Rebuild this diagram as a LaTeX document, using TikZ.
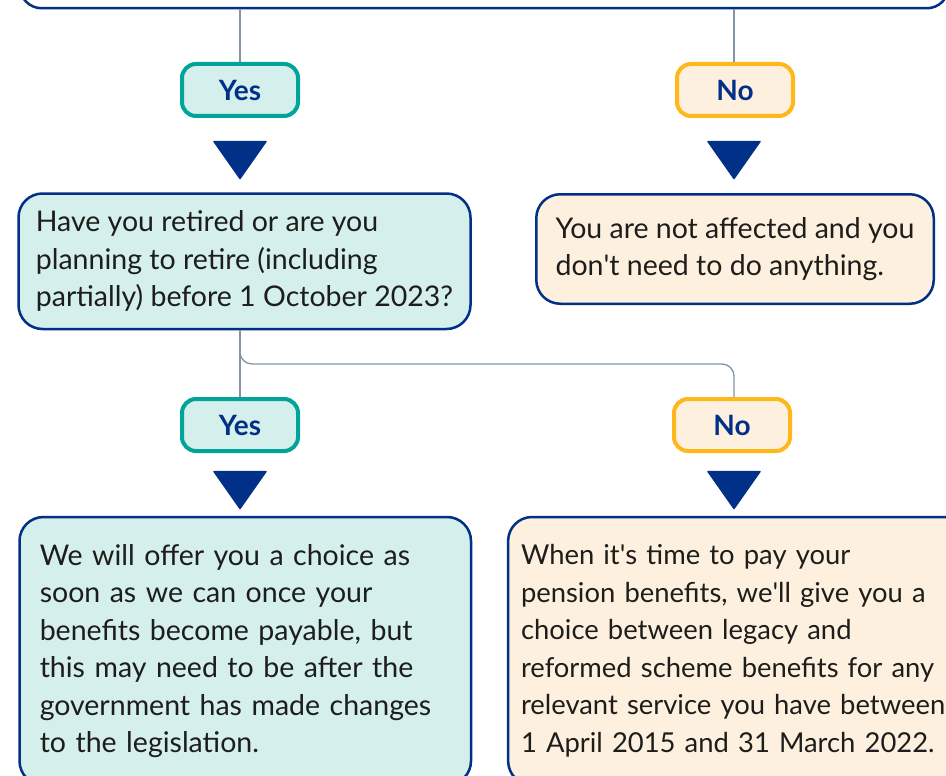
\documentclass[tikz,border=0pt]{standalone}
\usepackage{fontspec}
\setmainfont{Lato}
\definecolor{navy}{HTML}{003087}
\definecolor{tealc}{HTML}{00A499}
\definecolor{tealfill}{HTML}{D5EFEC}
\definecolor{orgc}{HTML}{FFB81C}
\definecolor{orgfill}{HTML}{FEF0DF}
\definecolor{conngray}{HTML}{8495A8}
\definecolor{txt}{HTML}{1D1D1B}
\tikzset{
  box/.style={draw=navy, line width=2.5pt, rounded corners=24pt, align=left, inner sep=0pt,
    font=\fontsize{28.5}{37.5}\selectfont, text=txt},
  tealbox/.style={box, fill=tealfill},
  orgbox/.style={box, fill=orgfill},
  pill/.style={line width=4pt, rounded corners=14pt, minimum width=116pt, minimum height=52pt,
    inner sep=0pt, font=\bfseries\fontsize{28}{30}\selectfont, text=navy},
  yespill/.style={pill, draw=tealc, fill=tealfill},
  nopill/.style={pill, draw=orgc, fill=orgfill},
  conn/.style={draw=conngray, line width=1.3pt},
  tri/.style={fill=navy, draw=navy, line width=1.5pt, line join=round}
}
\begin{document}
\begin{tikzpicture}[x=1pt,y=-1pt]
\useasboundingbox (0,0) rectangle (946,776);
\clip (0,0) rectangle (946,776);
\fill[white] (0,0) rectangle (946,776);

% top (cut-off) box
\node[draw=navy, line width=2.5pt, fill=white, rounded corners=22pt, minimum width=929pt,
  minimum height=100pt, anchor=south west, inner sep=0pt] (q0) at (18.5,9.5) {};

% first row of answers
\node[yespill] (yes1) at (240,90) {Yes};
\node[nopill] (no1) at (735,90) {No};

\draw[tri] (214,141.5) -- (266,141.5) -- (240,178.5) -- cycle;
\draw[tri] (708,141.5) -- (760,141.5) -- (734,178.5) -- cycle;

% second question
\node[tealbox, minimum width=452pt, minimum height=135.5pt] (q1) at (244.5,261.25)
 {Have you retired or are you\\planning to retire (including\\partially) before 1 October 2023?};
\node[orgbox, minimum width=397.5pt, minimum height=109.5pt] (na) at (735,249)
 {You are not affected and you\\don\textquotesingle t need to do anything.};

% second row of answers
\node[yespill] (yes2) at (240,425) {Yes};
\node[nopill] (no2) at (732,425) {No};
\coordinate (j) at (734,364);

\draw[tri] (214,471.5) -- (266,471.5) -- (240,508.5) -- cycle;
\draw[tri] (708,471.5) -- (760,471.5) -- (734,508.5) -- cycle;

% outcomes
\node[tealbox, minimum width=451.5pt, minimum height=268pt, text width=411pt] (o1) at (245.25,651)
 {We will offer you a choice as\\soon as we can once your\\benefits become payable, but\\this may need to be after the\\government has made changes\\to the legislation.};
\node[orgbox, minimum width=471.75pt, minimum height=268pt, text width=446pt,
  font=\fontsize{27.4}{37.5}\selectfont] (o2) at (744,651)
 {When it\textquotesingle s time to pay your\\pension benefits, we\textquotesingle ll give you a\\choice between legacy and\\reformed scheme benefits for any\\relevant service you have between\\1 April 2015 and 31 March 2022.};

% connectors
\draw[conn] (yes1.north |- q0.south) -- (yes1.north);
\draw[conn] (734,9.5) -- (no1.north -| 734,0);
\draw[conn] (yes2.north |- q1.south) -- (yes2.north);
\draw[conn, rounded corners=12pt] (yes2.north |- q1.south) |- (j) -- (j |- no2.north);
\end{tikzpicture}
\end{document}
